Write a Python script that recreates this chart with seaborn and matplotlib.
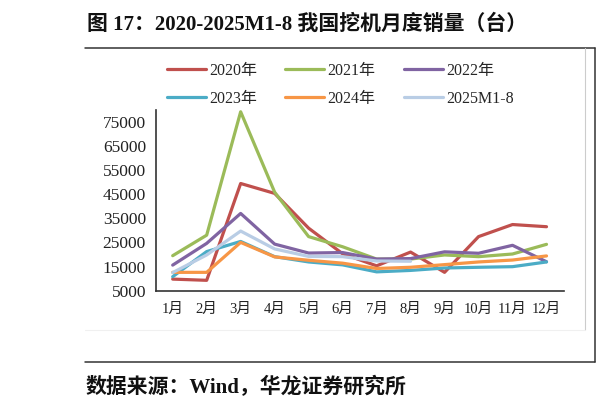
import pandas as pd
import matplotlib
matplotlib.use("Agg")
import matplotlib.pyplot as plt
from matplotlib.lines import Line2D
import seaborn as sns

# -----------------------------
# Data
# -----------------------------
months = ["1月", "2月", "3月", "4月", "5月", "6月",
          "7月", "8月", "9月", "10月", "11月", "12月"]

sales_2020 = [9800, 9300, 49400, 45300, 30900, 20300, 15300, 21000, 12600, 27400, 32400, 31500]
sales_2021 = [19500, 28000, 79100, 45800, 27400, 23200, 18100, 18100, 19800, 19100, 20200, 24200]
sales_2022 = [15600, 24600, 37000, 24300, 20600, 20800, 18100, 18300, 21100, 20500, 23800, 17000]
sales_2023 = [10800, 21200, 25400, 19100, 16900, 15700, 12800, 13400, 14400, 14700, 14950, 16900]
sales_2024 = [12600, 12600, 25000, 19000, 17600, 16400, 14200, 14700, 15800, 16900, 17700, 19400]
sales_2025 = [12500, 19800, 29700, 22300, 19200, 19100, 17300, 17200]

series_names = ["2020年", "2021年", "2022年", "2023年", "2024年", "2025M1-8"]
series_values = [sales_2020, sales_2021, sales_2022, sales_2023, sales_2024, sales_2025]
colors = ["#C0504D", "#9BBB59", "#8064A2", "#4BACC6", "#F79646", "#B9CDE5"]

y_ticks = [5000, 15000, 25000, 35000, 45000, 55000, 65000, 75000]

# Long-form table for seaborn
rows = []
for name, vals in zip(series_names, series_values):
    for i, v in enumerate(vals):
        rows.append({"month": i, "sales": v, "series": name})
df = pd.DataFrame(rows)

# -----------------------------
# Figure
# -----------------------------
sns.set_style("white")
plt.rcParams["font.family"] = ["Liberation Serif", "Noto Sans CJK SC"]

W, H = 599, 411
fig = plt.figure(figsize=(W / 100, H / 100), dpi=100)
fig.patch.set_facecolor("white")

ax = fig.add_axes([155.7 / W, 1 - 290.7 / H, (563.5 - 155.7) / W, (290.7 - 109.6) / H])

sns.lineplot(
    data=df, x="month", y="sales", hue="series",
    hue_order=series_names, palette=dict(zip(series_names, colors)),
    linewidth=2.3, ax=ax, legend=False,
)

ax.set_xlim(-0.5, 11.5)
ax.set_ylim(5000, 80000)
ax.set_yticks(y_ticks)
ax.set_yticklabels([str(t) for t in y_ticks], fontsize=12.5, color="#222222")
ax.set_xticks(range(12))
ax.set_xticklabels(months, fontsize=10.5, color="#222222")
ax.set_xticks([i - 0.5 for i in range(13)], minor=True)
ax.tick_params(axis="x", which="major", length=0, pad=9)
ax.tick_params(axis="x", which="minor", length=4, width=1, color="#333333", direction="out")
ax.tick_params(axis="y", length=4, width=1, color="#333333", direction="out", pad=3)
ax.set_xlabel("")
ax.set_ylabel("")

for side in ["top", "right"]:
    ax.spines[side].set_visible(False)
for side in ["left", "bottom"]:
    ax.spines[side].set_color("#333333")
    ax.spines[side].set_linewidth(1.2)

# Legend (row-wise order: matplotlib fills columns first)
order = [0, 3, 1, 4, 2, 5]
handles = [Line2D([0], [0], color=colors[i], lw=2.3) for i in order]
labels = [series_names[i] for i in order]
fig.legend(
    handles, labels, ncol=3, frameon=False,
    loc="upper left", bbox_to_anchor=(167 / W, 1 - 63 / H),
    fontsize=11.5, handlelength=2.45, handletextpad=0.2,
    columnspacing=1.75, labelspacing=0.75, borderpad=0, borderaxespad=0,
)

# -----------------------------
# Page decorations: title, rules, source
# -----------------------------
def fx(x):
    return x / W

def fy(y):
    return 1 - y / H

fig.add_artist(Line2D([fx(85), fx(595)], [fy(48), fy(48)], color="#333333", lw=1.1))
fig.add_artist(Line2D([fx(85), fx(595)], [fy(362), fy(362)], color="#333333", lw=1.1))
fig.add_artist(Line2D([fx(595), fx(595)], [fy(48), fy(362)], color="#333333", lw=1.1))
fig.add_artist(Line2D([fx(585), fx(585)], [fy(48), fy(330)], color="#CCCCCC", lw=0.8))
fig.add_artist(Line2D([fx(85), fx(585)], [fy(330), fy(330)], color="#F0F0F0", lw=0.8))

fig.text(fx(87), fy(25), "图 17：2020-2025M1-8 我国挖机月度销量（台）",
         fontsize=15, fontweight="bold", ha="left", va="center", color="#111111")
fig.text(fx(86), fy(387), "数据来源：Wind，华龙证券研究所",
         fontsize=15, fontweight="bold", ha="left", va="center", color="#111111")

fig.savefig("out.png", dpi=100, facecolor="white")
